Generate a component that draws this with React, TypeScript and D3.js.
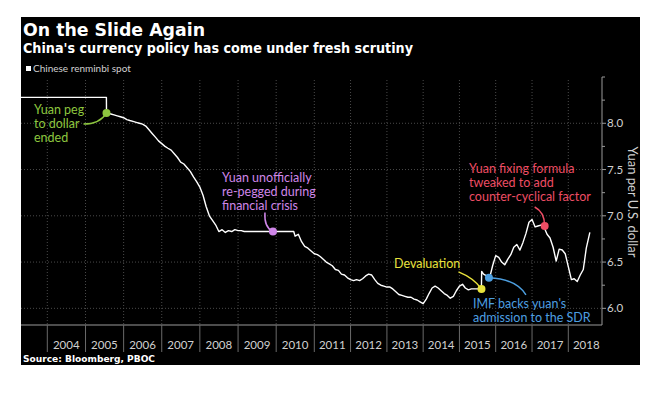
import React from 'react';
import * as d3 from 'd3';

const title = 'On the Slide Again';
const subtitle = "China's currency policy has come under fresh scrutiny";
const legendLabel = 'Chinese renminbi spot';
const source = 'Source: Bloomberg, PBOC';
const yTitle = 'Yuan per U.S. dollar';

// USD/CNY spot
const dates = [
  '2003-04-24', '2005-07-20', '2005-07-21', '2005-08', '2005-09', '2005-10', '2005-11', '2005-12',
  '2006-01', '2006-02', '2006-03', '2006-04', '2006-05', '2006-06', '2006-07', '2006-08', '2006-09', '2006-10', '2006-11', '2006-12',
  '2007-01', '2007-02', '2007-03', '2007-04', '2007-05', '2007-06', '2007-07', '2007-08', '2007-09', '2007-10', '2007-11', '2007-12',
  '2008-01', '2008-02', '2008-03', '2008-04', '2008-05', '2008-06', '2008-07', '2008-08', '2008-09', '2008-10', '2008-11', '2008-12',
  '2009-01', '2009-02', '2009-03', '2009-04', '2009-05', '2009-06', '2009-07', '2009-08', '2009-09', '2009-10', '2009-11', '2009-12',
  '2010-01', '2010-02', '2010-03', '2010-04', '2010-05', '2010-06-18', '2010-07', '2010-08', '2010-09', '2010-10', '2010-11', '2010-12',
  '2011-01', '2011-02', '2011-03', '2011-04', '2011-05', '2011-06', '2011-07', '2011-08', '2011-09', '2011-10', '2011-11', '2011-12',
  '2012-01', '2012-02', '2012-03', '2012-04', '2012-05', '2012-06', '2012-07', '2012-08', '2012-09', '2012-10', '2012-11', '2012-12',
  '2013-01', '2013-02', '2013-03', '2013-04', '2013-05', '2013-06', '2013-07', '2013-08', '2013-09', '2013-10', '2013-11', '2013-12',
  '2014-01', '2014-02', '2014-03', '2014-04', '2014-05', '2014-06', '2014-07', '2014-08', '2014-09', '2014-10', '2014-11', '2014-12',
  '2015-01', '2015-02', '2015-03', '2015-04', '2015-05', '2015-06', '2015-07', '2015-08-10', '2015-08-13', '2015-09', '2015-10', '2015-11', '2015-12',
  '2016-01', '2016-02', '2016-03', '2016-04', '2016-05', '2016-06', '2016-07', '2016-08', '2016-09', '2016-10', '2016-11', '2016-12',
  '2017-01', '2017-02', '2017-03', '2017-04', '2017-05', '2017-06', '2017-07', '2017-08', '2017-09', '2017-10', '2017-11', '2017-12',
  '2018-01', '2018-02', '2018-03', '2018-04', '2018-05', '2018-06', '2018-07', '2018-08-06',
];
const spot = [
  8.28, 8.28, 8.11, 8.11, 8.1, 8.09, 8.08, 8.07,
  8.06, 8.04, 8.03, 8.02, 8.01, 8.0, 7.99, 7.97, 7.93, 7.89, 7.85, 7.81,
  7.78, 7.75, 7.73, 7.71, 7.67, 7.63, 7.58, 7.56, 7.52, 7.48, 7.42, 7.37,
  7.31, 7.22, 7.1, 7.0, 6.95, 6.9, 6.83, 6.85, 6.82, 6.84, 6.83, 6.85,
  6.84, 6.84, 6.83, 6.83, 6.83, 6.83, 6.83, 6.83, 6.83, 6.83, 6.83, 6.83,
  6.83, 6.83, 6.83, 6.83, 6.83, 6.83, 6.78, 6.8, 6.72, 6.67, 6.65, 6.62,
  6.59, 6.58, 6.56, 6.53, 6.5, 6.48, 6.46, 6.42, 6.41, 6.37, 6.36, 6.33,
  6.31, 6.3, 6.31, 6.3, 6.32, 6.35, 6.37, 6.36, 6.31, 6.27, 6.25, 6.24,
  6.23, 6.23, 6.21, 6.18, 6.15, 6.14, 6.13, 6.12, 6.12, 6.1, 6.09, 6.07,
  6.05, 6.1, 6.16, 6.22, 6.24, 6.22, 6.19, 6.16, 6.14, 6.11, 6.13, 6.19,
  6.24, 6.26, 6.22, 6.2, 6.21, 6.21, 6.21, 6.21, 6.4, 6.37, 6.35, 6.33, 6.46,
  6.57, 6.55, 6.5, 6.47, 6.53, 6.58, 6.66, 6.69, 6.63, 6.71, 6.81, 6.93,
  6.96, 6.88, 6.89, 6.9, 6.88, 6.8, 6.76, 6.66, 6.51, 6.64, 6.63, 6.59,
  6.45, 6.31, 6.32, 6.29, 6.36, 6.42, 6.65, 6.82,
];

const years = d3.range(2004, 2019);
const yMajor = [6.0, 6.5, 7.0, 7.5, 8.0];
const yMinor = [6.25, 6.75, 7.25, 7.75, 8.25, 8.5];

// annotated events
const eventDates = ['2005-07-21', '2009-12-01', '2015-08-11', '2015-10-25', '2017-05-08'];
const eventValues = [8.11, 6.83, 6.21, 6.33, 6.89];
const eventColors = ['#8dc63f', '#cf86e8', '#e8e23c', '#4d9fe0', '#ee4d64'];
const eventLines = [
  ['Yuan peg', 'to dollar', 'ended'],
  ['Yuan unofficially', 're-pegged during', 'financial crisis'],
  ['Devaluation'],
  ["IMF backs yuan's", 'admission to the SDR'],
  ['Yuan fixing formula', 'tweaked to add', 'counter-cyclical factor'],
];
const labelPos = [[34, 114], [222, 182], [394, 268], [473, 308], [469, 173]];
// connector: [start dx, start dy, ctrl dx, ctrl dy] relative to the dot
const connectors = [[-23, 11, -7, 11], [-8, -19, -9, -4], [-23, -17, -8, -11], [37, 17, 27, 1], [-10, -19, 0, -14]];

const parseDate = (s: string) =>
  s.length === 7 ? d3.timeParse('%Y-%m')(s)! : d3.timeParse('%Y-%m-%d')(s)!;

const W = 665;
const H = 395;
const plot = { left: 21, right: 602, top: 77, bottom: 325 };

export default function App() {
  const x = d3.scaleTime()
    .domain([new Date(2004, 0, 1), new Date(2011, 0, 1), new Date(2018, 0, 1)])
    .range([47.3, 314.3, 568.3]);
  const y = d3.scaleLinear().domain([5.82, 8.5]).range([plot.bottom, plot.top]);

  const points = dates.map((d, i) => ({ date: parseDate(d), value: spot[i] }));
  const line = d3.line<{ date: Date; value: number }>()
    .x(d => x(d.date))
    .y(d => y(d.value));

  const grid = '#4a4a4a';
  const axisColor = '#9a9a9a';
  const textColor = '#d0d0d0';

  return (
    <svg width={W} height={H} style={{ position: 'absolute', left: 0, top: 0 }}>
      <defs>
        <clipPath id="plotClip">
          <rect x={plot.left} y={plot.top - 5} width={plot.right - plot.left} height={plot.bottom - plot.top + 5} />
        </clipPath>
      </defs>
      <rect x={0} y={0} width={W} height={H} fill="#fff" />
      <rect x={21} y={17} width={619} height={348} fill="#000" />

      <text x={23} y={36} fill="#fff" fontFamily="DejaVu Sans" fontWeight="bold" fontSize={18}
        textLength={182} lengthAdjust="spacingAndGlyphs">{title}</text>
      <text x={23} y={53} fill="#fff" fontFamily="DejaVu Sans" fontWeight="bold" fontSize={14}
        textLength={390} lengthAdjust="spacingAndGlyphs">{subtitle}</text>

      <rect x={26} y={66} width={5} height={5} fill="#fff" />
      <text x={33} y={72} fill={textColor} fontFamily="Lato" fontSize={10}>{legendLabel}</text>

      {/* grid */}
      {years.map(yr => (
        <line key={'vg' + yr} x1={x(new Date(yr, 0, 1))} x2={x(new Date(yr, 0, 1))}
          y1={plot.top + 3} y2={plot.bottom} stroke={grid} strokeDasharray="1,2" />
      ))}
      {yMajor.map(v => (
        <line key={'hg' + v} x1={plot.left} x2={plot.right} y1={y(v)} y2={y(v)}
          stroke={grid} strokeDasharray="1,2" />
      ))}

      {/* x axis band */}
      <line x1={plot.left} x2={plot.right} y1={plot.bottom} y2={plot.bottom} stroke={axisColor} strokeWidth={1.2} />
      {years.map(yr => (
        <line key={'xs' + yr} x1={x(new Date(yr, 0, 1))} x2={x(new Date(yr, 0, 1))}
          y1={plot.bottom} y2={352} stroke="#6a6a6a" />
      ))}
      {years.map(yr => (
        <text key={'xl' + yr} x={x(new Date(yr, 6, 1))} y={349} textAnchor="middle"
          fill={textColor} fontFamily="Lato" fontSize={11.5}>{yr}</text>
      ))}

      {/* y axis */}
      <line x1={plot.right} x2={plot.right} y1={plot.top} y2={plot.bottom} stroke={axisColor} />
      {yMinor.map(v => (
        <line key={'ym' + v} x1={plot.right} x2={plot.right + 3} y1={y(v)} y2={y(v)} stroke={axisColor} />
      ))}
      {yMajor.map(v => (
        <g key={'yt' + v}>
          <line x1={plot.right} x2={plot.right + 4} y1={y(v)} y2={y(v)} stroke={axisColor} />
          <text x={plot.right + 5} y={y(v) + 4} fill={textColor} fontFamily="Lato" fontSize={11.5}>
            {d3.format('.1f')(v)}
          </text>
        </g>
      ))}
      <text transform={`translate(628,202) rotate(90)`} textAnchor="middle" fill={textColor}
        fontFamily="Lato" fontSize={13}>{yTitle}</text>

      {/* series */}
      <path d={line(points) || ''} fill="none" stroke="#fff" strokeWidth={1.4}
        strokeLinejoin="round" clipPath="url(#plotClip)" />

      {/* annotations */}
      {eventDates.map((d, i) => {
        const cx = x(parseDate(d));
        const cy = y(eventValues[i]);
        const [sx, sy, qx, qy] = connectors[i];
        return (
          <g key={'ev' + i}>
            <path d={`M${cx + sx},${cy + sy}Q${cx + qx},${cy + qy} ${cx},${cy}`} fill="none"
              stroke={eventColors[i]} strokeWidth={1.5} />
            <circle cx={cx} cy={cy} r={4} fill={eventColors[i]} />
            {eventLines[i].map((t, j) => (
              <text key={j} x={labelPos[i][0]} y={labelPos[i][1] + j * 13.8} fill={eventColors[i]}
                fontFamily="Lato" fontSize={12.5}>{t}</text>
            ))}
          </g>
        );
      })}

      <text x={23} y={362} fill="#fff" fontFamily="DejaVu Sans" fontWeight="bold" fontSize={9}
        textLength={132} lengthAdjust="spacingAndGlyphs">{source}</text>
    </svg>
  );
}
